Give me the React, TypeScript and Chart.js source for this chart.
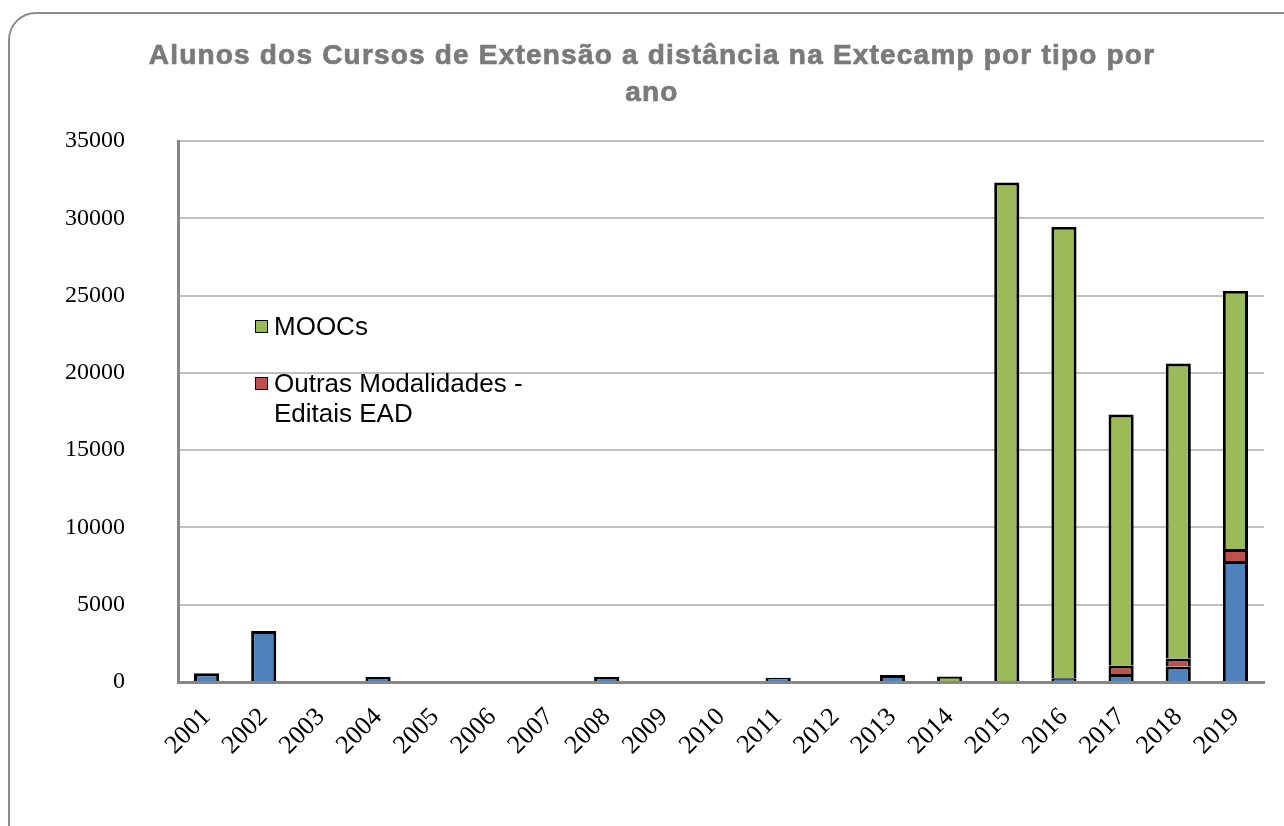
import React, { useEffect, useRef } from "react";
import { Chart, registerables } from "chart.js";

Chart.register(...registerables);

const years = ["2001","2002","2003","2004","2005","2006","2007","2008","2009","2010","2011","2012","2013","2014","2015","2016","2017","2018","2019"];
const ensinoDistancia = [560, 3300, null, 320, null, 60, null, 320, null, null, 280, 60, 450, null, null, 240, 520, 1000, 7830];
const outrasModalidades = [null, null, null, null, null, null, null, null, null, null, null, null, null, null, null, null, 550, 520, 770];
const moocs = [null, null, null, null, null, null, null, null, null, null, null, null, null, 360, 32310, 29220, 16230, 19080, 16720];
const yTicks = [0, 5000, 10000, 15000, 20000, 25000, 30000, 35000];

const titleLines = ["Alunos dos Cursos de Extensão a distância na Extecamp por tipo por", "ano"];
const legendItems = [
  { label: "MOOCs", color: "#9bbb59" },
  { label: "Outras Modalidades - Editais EAD", color: "#c0504d" },
];

export default function App() {
  const ref = useRef<HTMLCanvasElement | null>(null);
  useEffect(() => {
    if (!ref.current) return;
    const common = { borderColor: "#000000", borderWidth: 3, borderSkipped: "start" as const, barPercentage: 0.44, categoryPercentage: 1 };
    const chart = new Chart(ref.current, {
      type: "bar",
      data: {
        labels: years,
        datasets: [
          { label: "Ensino a Distância", data: ensinoDistancia, backgroundColor: "#4f81bd", ...common },
          { label: "Outras Modalidades - Editais EAD", data: outrasModalidades, backgroundColor: "#c0504d", ...common },
          { label: "MOOCs", data: moocs, backgroundColor: "#9bbb59", ...common },
        ],
      },
      options: {
        animation: false,
        responsive: false,
        maintainAspectRatio: false,
        layout: { padding: { left: 0, right: 20, top: 141, bottom: 0 } },
        plugins: { legend: { display: false }, title: { display: false }, tooltip: { enabled: false } },
        scales: {
          x: {
            stacked: true,
            grid: { display: false, drawTicks: false },
            border: { display: true, color: "#878787", width: 3 },
            ticks: {
              minRotation: 45,
              maxRotation: 45,
              padding: 20,
              color: "#000000",
              font: { family: "'Liberation Serif', 'Times New Roman', serif", size: 26 },
            },
            afterFit: (s: any) => { s.height = 144; },
          },
          y: {
            stacked: true,
            min: 0,
            max: 35000,
            afterBuildTicks: (s: any) => { s.ticks = yTicks.map((v) => ({ value: v })); },
            grid: { color: "#c0c0c0", lineWidth: 2, drawTicks: false },
            border: { display: true, color: "#878787", width: 3 },
            ticks: {
              padding: 53,
              color: "#000000",
              font: { family: "'Liberation Serif', 'Times New Roman', serif", size: 24 },
              callback: (v: any) => String(v),
            },
            afterFit: (s: any) => { s.width = 178; },
          },
        },
      },
    });
    return () => chart.destroy();
  }, []);

  return (
    <div style={{ position: "absolute", left: 0, top: 0, width: 1284, height: 826, overflow: "hidden", background: "#ffffff" }}>
      <div style={{ position: "absolute", left: 8, top: 12, width: 1320, height: 860, border: "2px solid #8c8c8c", borderRadius: 28, boxSizing: "border-box" }} />
      <canvas ref={ref} width={1284} height={826} style={{ position: "absolute", left: 0, top: 0 }} />
      <div style={{ position: "absolute", left: 0, top: 36, width: 1304, textAlign: "center", fontFamily: "'Liberation Sans', Arial, sans-serif", fontWeight: "bold", fontSize: 28, lineHeight: "37px", letterSpacing: 1.2, color: "#7a7a7a", WebkitTextStroke: "0.7px #7a7a7a" } as any}>
        {titleLines[0]}<br />{titleLines[1]}
      </div>
      <div style={{ position: "absolute", left: 255, top: 311, fontFamily: "'Liberation Sans', Arial, sans-serif", fontSize: 26, lineHeight: "30px", color: "#000000", width: 280 }}>
        {legendItems.map((it, i) => (
          <div key={i} style={{ display: "flex", alignItems: "flex-start", marginBottom: i === 0 ? 27 : 0 }}>
            <span style={{ display: "inline-block", width: 11, height: 11, background: it.color, border: "1.5px solid #000", marginTop: 9, marginRight: 6, flex: "none" }} />
            <span>{it.label}</span>
          </div>
        ))}
      </div>
    </div>
  );
}
